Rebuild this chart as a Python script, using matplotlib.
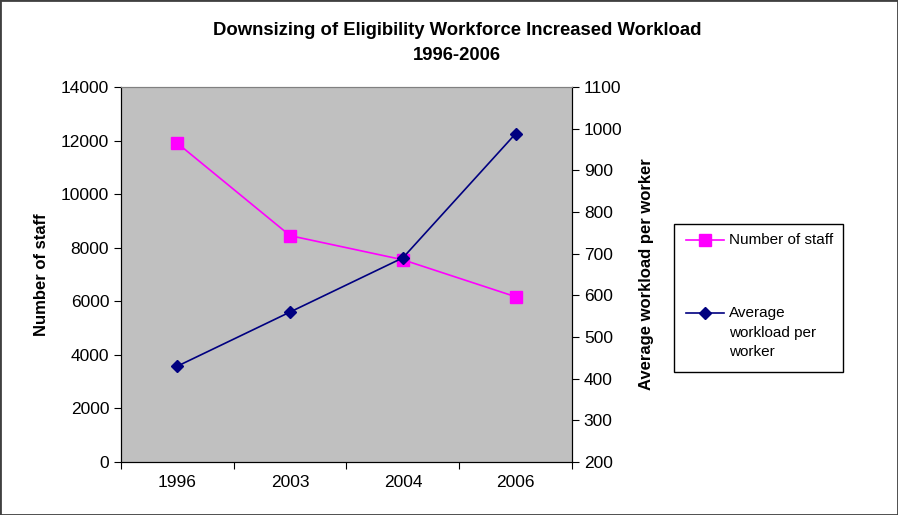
import matplotlib
matplotlib.use("Agg")
import matplotlib.pyplot as plt
from matplotlib.patches import Rectangle
from matplotlib.lines import Line2D

plt.rcParams["font.family"] = ["Liberation Sans", "DejaVu Sans"]

years = ["1996", "2003", "2004", "2006"]
staff = [11900, 8450, 7550, 6170]
workload = [430, 560, 690, 988]
staff_label = "Number of staff"
workload_label = "Average\nworkload per\nworker"

fig = plt.figure(figsize=(8.98, 5.15), dpi=100)
fig.patches.append(Rectangle((0, 0), 1, 1, transform=fig.transFigure,
                             fill=False, edgecolor="#404040", linewidth=2))

ax = fig.add_axes([0.1347, 0.1029, 0.5023, 0.7282])
ax.set_facecolor("#C0C0C0")
x = [i + 0.5 for i in range(len(years))]

ax.plot(x, staff, color="#FF00FF", marker="s", markersize=8, linewidth=1.2)
ax.set_xlim(0, 4)
ax.set_ylim(0, 14000)
ax.set_yticks(range(0, 14001, 2000))
ax.set_xticks(range(0, 5))
ax.set_xticklabels([])
ax.set_xticks(x, minor=True)
ax.set_xticklabels(years, minor=True)
ax.tick_params(axis="x", which="minor", length=0, labelsize=12.5, pad=9)
ax.tick_params(axis="x", which="major", length=5, direction="out")
ax.tick_params(axis="y", labelsize=12.5, length=5, direction="out")
ax.set_ylabel("Number of staff", fontsize=12, fontweight="bold")
ax.yaxis.set_label_coords(-0.16, 0.5)

ax2 = ax.twinx()
ax2.plot(x, workload, color="#000080", marker="D", markersize=6, linewidth=1.2)
ax2.set_ylim(200, 1100)
ax2.set_yticks(range(200, 1101, 100))
ax2.tick_params(axis="y", labelsize=12.5, length=5, direction="out")
ax2.set_ylabel("Average workload per worker", fontsize=12, fontweight="bold")
ax2.yaxis.set_label_coords(1.148, 0.5)

for a in (ax, ax2):
    a.spines["top"].set_color("#808080")

fig.text(0.509, 1 - 43 / 515,
         "Downsizing of Eligibility Workforce Increased Workload\n1996-2006",
         ha="center", va="center", fontsize=13.3, fontweight="bold", linespacing=1.55)

# legend drawn by hand so the handle sits on the first text line
def fx(px):
    return px / 898

def fy(py):
    return 1 - py / 515

fig.patches.append(Rectangle((fx(674), fy(372)), fx(843) - fx(674), fy(224) - fy(372),
                             transform=fig.transFigure, facecolor="white",
                             edgecolor="black", linewidth=1))
entries = [(staff_label, "#FF00FF", "s", 8, 240), (workload_label, "#000080", "D", 6, 313)]
for label, color, marker, ms, py in entries:
    fig.add_artist(Line2D([fx(686), fx(724)], [fy(py), fy(py)], transform=fig.transFigure,
                          color=color, linewidth=1.2))
    fig.add_artist(Line2D([fx(705)], [fy(py)], transform=fig.transFigure, color=color,
                          marker=marker, markersize=ms, linestyle="none"))
    fig.text(fx(729), fy(py) + 0.013, label, ha="left", va="top", fontsize=11,
             linespacing=1.5)

fig.savefig("out.png", dpi=100)
